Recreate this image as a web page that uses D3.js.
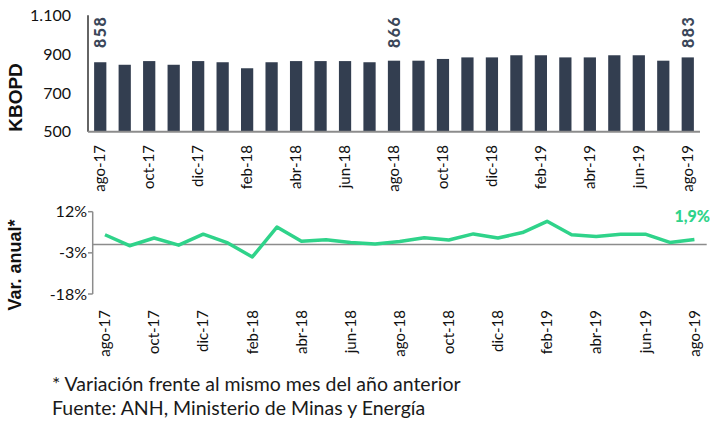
<!DOCTYPE html>
<html>
<head>
<meta charset="utf-8">
<script src="https://cdn.jsdelivr.net/npm/d3@7/dist/d3.min.js"></script>
<style>
body{margin:0;background:#fff;}
svg{display:block;font-family:Lato,"Open Sans",sans-serif;}
</style>
</head>
<body>
<svg id="chart" width="710" height="423"></svg>
<script>
const months = ["ago-17","sep-17","oct-17","nov-17","dic-17","ene-18","feb-18","mar-18","abr-18","may-18","jun-18","jul-18","ago-18","sep-18","oct-18","nov-18","dic-18","ene-19","feb-19","mar-19","abr-19","may-19","jun-19","jul-19","ago-19"];
const production = [858,845,864,845,864,858,827,858,864,864,864,858,866,866,875,883,883,894,894,883,883,894,894,866,883];
const variation = [3.6,-0.4,2.4,-0.2,3.8,0.6,-4.5,6.4,1.2,1.8,0.8,0.2,1.1,2.5,1.7,3.9,2.4,4.4,8.5,3.6,3.0,3.8,3.8,0.8,1.9];
const prodTicks = [500,700,900,1100];
const varTicks = [-18,-3,12];
const labeledIdx = [0,12,24];
const footnotes = ["* Variación frente al mismo mes del año anterior","Fuente: ANH, Ministerio de Minas y Energía"];

const svg = d3.select("#chart");
const loc = d3.formatLocale({decimal:",",thousands:".",grouping:[3],currency:["$",""]});
const fmtK = loc.format(",");
const fmtPct = loc.format(".1f");

const barColor = "#333e50", green = "#2fd38a", labColor = "#3b4759";
const titleFont = "'Liberation Sans',Arial,sans-serif";

// ---- Top chart ----
const x1 = d3.scaleBand().domain(months).range([88,700]).paddingInner(0.5).paddingOuter(0.25);
const y1 = d3.scaleLinear().domain([500,1100]).range([131.7,15.3]);

svg.append("g").selectAll("rect").data(production).join("rect")
  .attr("x",(d,i)=>x1(months[i]))
  .attr("width",x1.bandwidth())
  .attr("y",d=>y1(d))
  .attr("height",d=>y1(500)-y1(d))
  .attr("fill",barColor);

// y axis top
svg.append("line").attr("x1",88).attr("x2",88).attr("y1",y1(1100)).attr("y2",y1(500))
  .attr("stroke","#111").attr("stroke-width",1.3);
svg.append("g").selectAll("text").data(prodTicks).join("text")
  .attr("x",71).attr("y",d=>y1(d)).attr("dy","0.35em")
  .attr("text-anchor","end").attr("font-size",16).attr("fill","#111")
  .text(d=>fmtK(d));
// x axis top
svg.append("line").attr("x1",88).attr("x2",700).attr("y1",y1(500)).attr("y2",y1(500))
  .attr("stroke","#8c8c8c").attr("stroke-width",2);
svg.append("g").selectAll("text").data(months.filter((m,i)=>i%2===0)).join("text")
  .attr("transform",d=>`translate(${x1(d)+x1.bandwidth()/2},145) rotate(-90)`)
  .attr("dy","0.35em").attr("text-anchor","end").attr("font-size",15).attr("fill","#111")
  .text(d=>d);
// value labels
svg.append("g").selectAll("text").data(labeledIdx).join("text")
  .attr("transform",i=>`translate(${x1(months[i])+x1.bandwidth()/2},48) rotate(-90)`)
  .attr("dy","0.36em").attr("text-anchor","start").attr("font-size",16).attr("font-weight",900)
  .attr("fill",labColor).attr("letter-spacing",1.5)
  .text(i=>production[i]);
// title
svg.append("text").attr("transform","translate(15,97.5) rotate(-90)")
  .attr("dy","0.35em").attr("text-anchor","middle").attr("font-size",19).attr("font-weight","bold")
  .attr("font-family",titleFont).attr("fill","#111").text("KBOPD");

// ---- Bottom chart ----
const x2 = d3.scaleBand().domain(months).range([92.7,706.7]);
const y2 = d3.scaleLinear().domain([-18,12]).range([294,211.7]);

svg.append("line").attr("x1",92.7).attr("x2",92.7).attr("y1",y2(12)).attr("y2",y2(-18))
  .attr("stroke","#8c8c8c").attr("stroke-width",1.5);
svg.append("g").selectAll("line").data(varTicks).join("line")
  .attr("x1",88).attr("x2",92.7).attr("y1",d=>y2(d)).attr("y2",d=>y2(d))
  .attr("stroke","#8c8c8c").attr("stroke-width",1.5);
svg.append("g").selectAll("text").data(varTicks).join("text")
  .attr("x",87).attr("y",d=>y2(d)).attr("dy","0.35em")
  .attr("text-anchor","end").attr("font-size",16).attr("fill","#111")
  .text(d=>d+"%");
svg.append("line").attr("x1",92.7).attr("x2",706.7).attr("y1",y2(0)).attr("y2",y2(0))
  .attr("stroke","#8c8c8c").attr("stroke-width",1.5);
svg.append("g").selectAll("text").data(months.filter((m,i)=>i%2===0)).join("text")
  .attr("transform",d=>`translate(${x2(d)+x2.bandwidth()/2},310) rotate(-90)`)
  .attr("dy","0.35em").attr("text-anchor","end").attr("font-size",15).attr("fill","#111")
  .text(d=>d);

const line = d3.line().x((d,i)=>x2(months[i])+x2.bandwidth()/2).y(d=>y2(d));
svg.append("path").datum(variation).attr("d",line)
  .attr("fill","none").attr("stroke",green).attr("stroke-width",3.5).attr("stroke-linejoin","round");

svg.append("text").attr("x",710).attr("y",222).attr("text-anchor","end")
  .attr("font-size",16).attr("font-weight",900).attr("fill",green)
  .text(fmtPct(variation[24])+"%");

svg.append("text").attr("transform","translate(15,265) rotate(-90)")
  .attr("dy","0.35em").attr("text-anchor","middle").attr("font-size",18).attr("font-weight","bold")
  .attr("font-family",titleFont).attr("fill","#111").text("Var. anual*");

// footnotes
svg.append("g").selectAll("text").data(footnotes).join("text")
  .attr("x",52).attr("y",(d,i)=>391+i*24).attr("font-size",19.5).attr("fill","#1a1a1a")
  .text(d=>d);
</script>
</body>
</html>
